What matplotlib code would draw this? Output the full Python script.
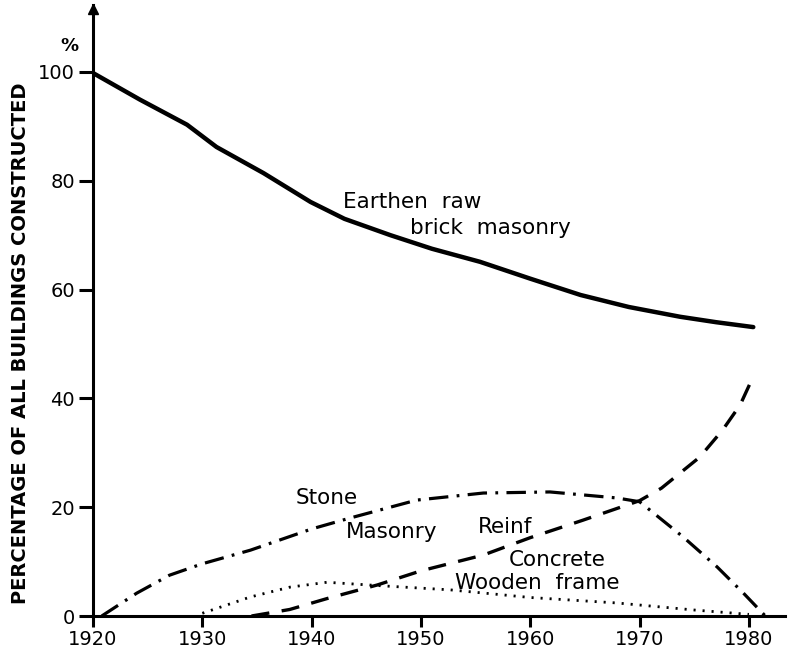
import matplotlib.pyplot as plt

plt.rcParams['lines.scale_dashes'] = False
plt.rcParams['font.family'] = ['DejaVu Sans']

# share of buildings constructed, by wall type (percent)
earthen_years = [1920, 1924.3, 1928.6, 1931.3, 1935.6, 1939.9, 1943, 1947.2, 1951, 1955.4,
                 1960, 1964.6, 1969, 1973.7, 1977, 1980.4]
earthen_pct = [99.8, 94.9, 90.3, 86.2, 81.4, 76.1, 73.0, 70.0, 67.5, 65.1,
               62.0, 59.0, 56.8, 55.0, 54.0, 53.1]

stone_years = [1920.8, 1924, 1927, 1930, 1934.4, 1940, 1943.5, 1949.6, 1955.7, 1961.8,
               1967.9, 1970, 1974, 1977.1, 1979.5, 1981.5]
stone_pct = [0, 4.2, 7.5, 9.6, 12.1, 16.0, 18.0, 21.3, 22.6, 22.8,
             21.7, 21.0, 14.5, 9.0, 4.2, 0]

concrete_years = [1934.5, 1938, 1941.4, 1946, 1950, 1955.7, 1960, 1964.8, 1970, 1972,
                  1975.5, 1977.6, 1979.2, 1980.3]
concrete_pct = [0, 1.2, 3.2, 5.7, 8.3, 11.2, 14.4, 17.6, 21.2, 23.5,
                29.2, 34.2, 38.8, 43.6]

wooden_years = [1930, 1934.4, 1938, 1941.4, 1946, 1952.7, 1960, 1967.9, 1975, 1980]
wooden_pct = [0.5, 3.5, 5.3, 6.2, 5.6, 4.8, 3.4, 2.4, 1.1, 0.3]

x_ticks = [1920, 1930, 1940, 1950, 1960, 1970, 1980]
y_ticks = [0, 20, 40, 60, 80, 100]

fig = plt.figure(figsize=(8.03, 6.53), dpi=100)
ax = fig.add_axes([93 / 803, 37 / 653, 692 / 803, 611 / 653])

ax.plot(earthen_years, earthen_pct, color='black', lw=3.2, solid_capstyle='round')
ax.plot(stone_years, stone_pct, color='black', lw=2.3, dashes=(14, 6, 2, 6))
ax.plot(concrete_years, concrete_pct, color='black', lw=2.4, dashes=(13, 9))
ax.plot(wooden_years, wooden_pct, color='black', lw=2.0, dashes=(1.5, 5))

ax.set_xlim(1920, 1983.3)
ax.set_ylim(0, 112.3)

for side in ['top', 'right']:
    ax.spines[side].set_visible(False)
for side in ['left', 'bottom']:
    ax.spines[side].set_linewidth(2.2)

ax.set_xticks(x_ticks)
ax.set_yticks(y_ticks)
ax.tick_params(axis='both', direction='out', width=2.2, labelsize=14)
ax.tick_params(axis='y', length=10, pad=3)
ax.tick_params(axis='x', length=8, pad=2)

# arrow head on the vertical axis
ax.plot(1920, 111.5, marker='^', color='black', markersize=7, clip_on=False)

ax.text(1917.8, 104.8, '%', fontsize=13, fontweight='bold', ha='center', va='center')

fig.text(21 / 803, 1 - 343 / 653, 'PERCENTAGE OF ALL BUILDINGS CONSTRUCTED',
         rotation=90, ha='center', va='center', fontsize=14, fontweight='bold')

label_kw = dict(fontsize=15.5, color='black', ha='left', va='center')
ax.text(1942.9, 76.1, 'Earthen  raw', **label_kw)
ax.text(1949.0, 71.3, 'brick  masonry', **label_kw)
ax.text(1938.5, 21.7, 'Stone', **label_kw)
ax.text(1943.1, 15.4, 'Masonry', **label_kw)
ax.text(1955.2, 16.4, 'Reinf', **label_kw)
ax.text(1958.0, 10.3, 'Concrete', **label_kw)
ax.text(1953.1, 6.1, 'Wooden  frame', **label_kw)

fig.savefig('out.png', dpi=100)
